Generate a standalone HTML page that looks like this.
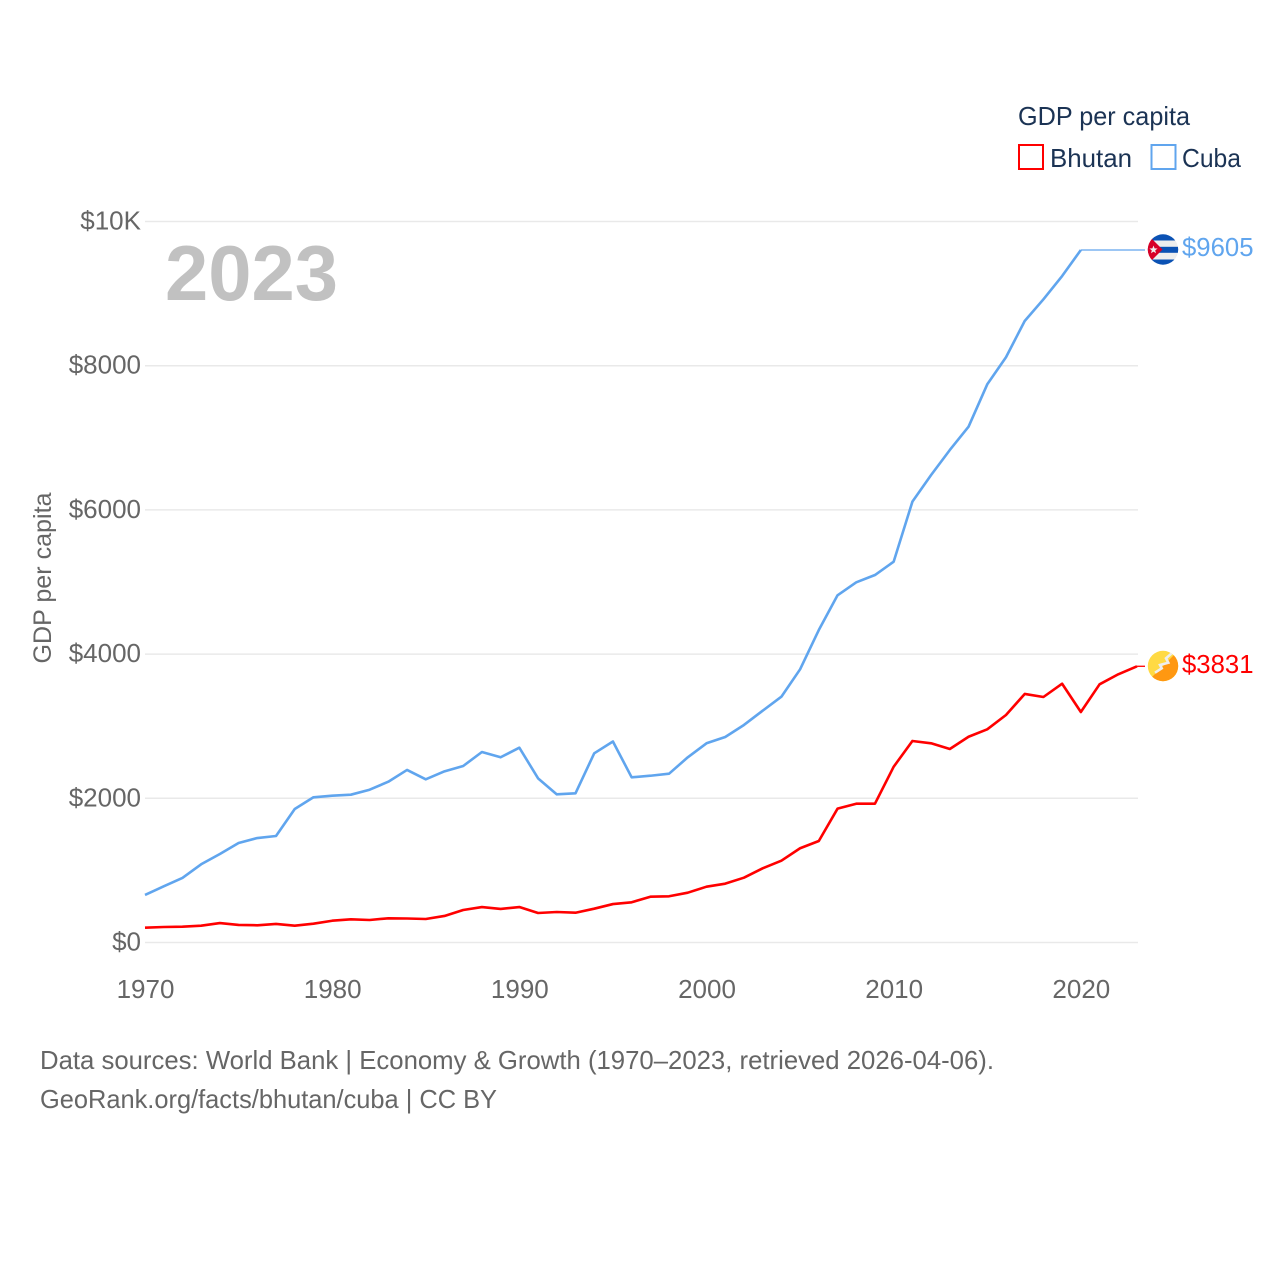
<!DOCTYPE html>
<html>
<head>
<meta charset="utf-8">
<title>GDP per capita: Bhutan vs Cuba</title>
<style>
html,body{margin:0;padding:0;background:#fff;}
#chart{display:block;}
text{font-family:"Liberation Sans",sans-serif;}
</style>
</head>
<body>
<svg id="chart" xmlns="http://www.w3.org/2000/svg" width="1280" height="1280" viewBox="0 0 1280 1280">
  <rect x="0" y="0" width="1280" height="1280" fill="#ffffff"/>
  <g id="grid"></g>
  <g id="y-ticks"></g>
  <g id="x-ticks"></g>
  <text transform="translate(51,578) rotate(-90)" text-anchor="middle" font-size="25" fill="#666666" textLength="171" lengthAdjust="spacingAndGlyphs">GDP per capita</text>
  <text x="165" y="300" font-size="78" font-weight="700" fill="#c1c1c1" textLength="173" lengthAdjust="spacingAndGlyphs">2023</text>
  <g id="series"></g>

  <g>
    <text x="1018" y="125" font-size="26" fill="#1b3354" textLength="172" lengthAdjust="spacingAndGlyphs">GDP per capita</text>
    <rect x="1019" y="145" width="24" height="24" fill="#ffffff" stroke="#ff0000" stroke-width="2"/>
    <text x="1050" y="167" font-size="26" fill="#1b3354" textLength="82" lengthAdjust="spacingAndGlyphs">Bhutan</text>
    <rect x="1151.5" y="145" width="24" height="24" fill="#ffffff" stroke="#60a5ee" stroke-width="2"/>
    <text x="1182" y="167" font-size="26" fill="#1b3354" textLength="59" lengthAdjust="spacingAndGlyphs">Cuba</text>
  </g>

  <defs>
    <clipPath id="cuba-clip"><circle cx="1163" cy="249.5" r="15.2"/></clipPath>
    <clipPath id="bhutan-clip"><circle cx="1163" cy="666" r="15.2"/></clipPath>
  </defs>
  <g clip-path="url(#cuba-clip)">
    <rect x="1147" y="234" width="32" height="32" fill="#eeeeee"/>
    <rect x="1147" y="234" width="32" height="6.5" fill="#0b52b4"/>
    <rect x="1147" y="246.8" width="32" height="6" fill="#0b52b4"/>
    <rect x="1147" y="259.5" width="32" height="7" fill="#0b52b4"/>
    <path d="M1147 234 L1162.5 249.5 L1147 265 Z" fill="#d80027"/>
    <polygon points="1153.5,245.5 1154.6,248.4 1157.6,248.5 1155.2,250.4 1156,253.3 1153.5,251.6 1151,253.3 1151.8,250.4 1149.4,248.5 1152.4,248.4" fill="#f0f0f0"/>
  </g>
  <g clip-path="url(#bhutan-clip)">
    <rect x="1147" y="650" width="32" height="32" fill="#ffda44"/>
    <path d="M1179 650 L1179 682 L1147 682 Z" fill="#ff9811"/>
    <path d="M1155 672.7 L1161.7 668.3 L1160 665 L1168.3 662.7 L1166 658.3 L1171.7 653.3" fill="none" stroke="#eeeeee" stroke-width="2.6"/>
  </g>

  <text id="label-cuba" x="1182" y="256" font-size="26" fill="#60a5ee" textLength="71.5" lengthAdjust="spacingAndGlyphs"></text>
  <text id="label-bhutan" x="1182" y="673" font-size="26" fill="#ff0000" textLength="71.5" lengthAdjust="spacingAndGlyphs"></text>

  <g>
    <text x="40" y="1069" font-size="26" fill="#666666" textLength="954" lengthAdjust="spacingAndGlyphs">Data sources: World Bank | Economy &amp; Growth (1970–2023, retrieved 2026-04-06).</text>
    <text x="40" y="1108" font-size="26" fill="#666666" textLength="457" lengthAdjust="spacingAndGlyphs">GeoRank.org/facts/bhutan/cuba | CC BY</text>
  </g>
</svg>
<script>
const yearsStart = 1970;
const xTickYears = [1970, 1980, 1990, 2000, 2010, 2020];
const yTickValues = [0, 2000, 4000, 6000, 8000, 10000];
const yTickLabels = ["$0", "$2000", "$4000", "$6000", "$8000", "$10K"];
const bhutanValues = [205,215,219,233,270,243,239,257,233,261,302,322,312,336,333,326,368,451,492,465,492,409,423,413,469,533,558,635,641,691,774,816,899,1029,1135,1307,1408,1856,1925,1925,2438,2795,2763,2684,2854,2957,3155,3447,3405,3589,3197,3581,3720,3831];
const cubaValues = [659,779,895,1085,1227,1380,1449,1477,1852,2014,2036,2050,2119,2230,2393,2263,2374,2448,2642,2569,2702,2277,2055,2069,2624,2788,2291,2313,2341,2569,2763,2850,3017,3215,3409,3789,4334,4816,4996,5097,5282,6114,6484,6831,7154,7742,8117,8620,8921,9244,9605];
const cubaLastValue = 9605;
const bhutanLastValue = 3831;

const NS = 'http://www.w3.org/2000/svg';
const xScale = function (year) { return 145 + (year - 1970) * (1137 - 145) / 53; };
const yScale = function (v) { return 942.5 - v * (942.5 - 221.5) / 10000; };
const gridLayer = document.getElementById('grid');
const yLayer = document.getElementById('y-ticks');
const xLayer = document.getElementById('x-ticks');
const seriesLayer = document.getElementById('series');

yTickValues.forEach(function (v, i) {
  const line = document.createElementNS(NS, 'line');
  
  
  line.setAttribute('x1', 145);
  line.setAttribute('x2', 1138);
  line.setAttribute('y1', yScale(v));
  line.setAttribute('y2', yScale(v));
  line.setAttribute('stroke', '#e9e9e9');
  line.setAttribute('stroke-width', '1.5');
  gridLayer.appendChild(line);

  const label = document.createElementNS(NS, 'text');
  
  
  label.setAttribute('x', 141);
  label.setAttribute('y', yScale(v) + 8);
  label.setAttribute('text-anchor', 'end');
  label.setAttribute('font-size', '26');
  label.setAttribute('fill', '#666666');
  label.textContent = yTickLabels[i];
  yLayer.appendChild(label);
});

xTickYears.forEach(function (year) {
  const label = document.createElementNS(NS, 'text');
  
  
  label.setAttribute('x', xScale(year) + 0.5);
  label.setAttribute('y', 998);
  label.setAttribute('text-anchor', 'middle');
  label.setAttribute('font-size', '26');
  label.setAttribute('fill', '#666666');
  label.textContent = String(year);
  xLayer.appendChild(label);
});

function pathFor(values) {
  return values.map(function (v, i) {
    return (i ? 'L' : 'M') + xScale(yearsStart + i).toFixed(2) + ' ' + yScale(v).toFixed(2);
  }).join(' ');
}

function connectorFor(values) {
  const last = values.length - 1;
  const y = yScale(values[last]).toFixed(2);
  return 'M' + xScale(yearsStart + last).toFixed(2) + ' ' + y + ' L1145 ' + y;
}

const bhutanLine = document.createElementNS(NS, 'path');


bhutanLine.setAttribute('d', pathFor(bhutanValues));
bhutanLine.setAttribute('fill', 'none');
bhutanLine.setAttribute('stroke', '#ff0000');
bhutanLine.setAttribute('stroke-width', '2.6');
bhutanLine.setAttribute('stroke-linejoin', 'round');
seriesLayer.appendChild(bhutanLine);

const cubaLine = document.createElementNS(NS, 'path');


cubaLine.setAttribute('d', pathFor(cubaValues));
cubaLine.setAttribute('fill', 'none');
cubaLine.setAttribute('stroke', '#60a5ee');
cubaLine.setAttribute('stroke-width', '2.6');
cubaLine.setAttribute('stroke-linejoin', 'round');
seriesLayer.appendChild(cubaLine);

const bhutanConnector = document.createElementNS(NS, 'path');


bhutanConnector.setAttribute('d', connectorFor(bhutanValues));
bhutanConnector.setAttribute('fill', 'none');
bhutanConnector.setAttribute('stroke', '#ff0000');
bhutanConnector.setAttribute('stroke-width', '1.3');
seriesLayer.appendChild(bhutanConnector);

const cubaConnector = document.createElementNS(NS, 'path');


cubaConnector.setAttribute('d', connectorFor(cubaValues));
cubaConnector.setAttribute('fill', 'none');
cubaConnector.setAttribute('stroke', '#60a5ee');
cubaConnector.setAttribute('stroke-width', '1.3');
seriesLayer.appendChild(cubaConnector);

document.getElementById('label-cuba').textContent = '$' + cubaLastValue;
document.getElementById('label-bhutan').textContent = '$' + bhutanLastValue;
</script>
</body>
</html>
